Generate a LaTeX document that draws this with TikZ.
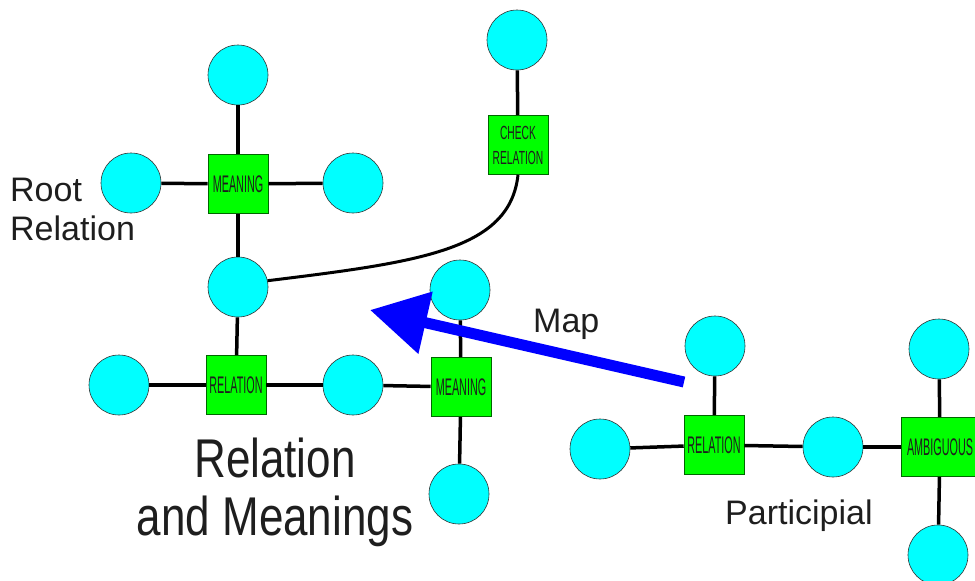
\documentclass[tikz,border=0pt]{standalone}
\usepackage{fontspec}
\setmainfont{Liberation Sans}
\usetikzlibrary{arrows.meta}
\definecolor{cyanfill}{RGB}{0,255,255}
\definecolor{boxgreen}{RGB}{0,255,0}
\definecolor{mapblue}{RGB}{0,0,255}
\definecolor{txt}{RGB}{30,30,30}
\newcommand{\boxlbl}[2][0.45]{\scalebox{#1}[1]{#2}}
\begin{document}
\begin{tikzpicture}[x=1pt,y=-1pt,
  circ/.style={circle, draw=black!80, line width=0.6pt, fill=cyanfill, minimum size=60pt, inner sep=0pt},
  gbox/.style={rectangle, draw=black!60!green, line width=0.6pt, fill=boxgreen, minimum width=60pt, minimum height=59pt, inner sep=0pt, font=\fontsize{24}{24}\selectfont, text=txt},
  link/.style={line width=3.5pt, black},
  lbl/.style={font=\fontsize{34}{39}\selectfont, text=txt, inner sep=0pt}]
\path[use as bounding box] (0,0) rectangle (975,581);
\clip (0,0) rectangle (975,581);

% left cluster
\node[circ] (tc) at (238,75) {};
\node[circ] (lc1) at (131,183) {};
\node[gbox] (mean1) at (238,184) {\boxlbl{MEANING}};
\node[circ] (rc1) at (353,183) {};
\node[circ] (cc) at (238,287) {};
\node[gbox] (rel1) at (236,385) {\boxlbl{RELATION}};
\node[circ] (lc2) at (119,385) {};
\node[circ] (rc2) at (353,385) {};
\node[gbox] (mean2) at (461,387) {\boxlbl{MEANING}};
\node[circ] (uc2) at (460,290) {};
\node[circ] (dc2) at (459,494) {};

% check relation
\node[circ] (chkc) at (517,40) {};
\node[gbox, font=\fontsize{19}{25}\selectfont, align=center] (chk) at (518,145) {\boxlbl[0.54]{CHECK}\\\boxlbl[0.54]{RELATION}};

% right cluster
\node[circ] (lc3) at (600,449) {};
\node[gbox] (rel2) at (714,445) {\boxlbl{RELATION}};
\node[circ] (uc3) at (715,346) {};
\node[circ] (rc3) at (833,447) {};
\node[gbox, minimum width=78pt] (amb) at (940,447) {\boxlbl{AMBIGUOUS}};
\node[circ] (uc4) at (939,349) {};
\node[circ] (dc4) at (938,555) {};

% connectors
\draw[link] (tc) -- (mean1);
\draw[link] (lc1) -- (mean1);
\draw[link] (mean1) -- (rc1);
\draw[link] (mean1) -- (cc);
\draw[link] (cc) -- (rel1);
\draw[link] (lc2) -- (rel1);
\draw[link] (rel1) -- (rc2);
\draw[link] (rc2) -- (mean2);
\draw[link] (uc2) -- (mean2);
\draw[link] (mean2) -- (dc2);
\draw[link] (chkc) -- (chk);
\draw[link, line width=3pt] (chk.south) .. controls (510,250) and (420,262) .. (cc.12);
\draw[link] (lc3) -- (rel2);
\draw[link] (uc3) -- (rel2);
\draw[link] (rel2) -- (rc3);
\draw[link] (rc3) -- (amb);
\draw[link] (uc4) -- (amb);
\draw[link] (amb) -- (dc4);

% texts
\node[lbl, anchor=north west, align=left] (root) at (10,178) {Root\\Relation};
\node[lbl, anchor=north, align=center, font=\fontsize{44}{47}\selectfont] (ram) at (275,436)
  {\scalebox{1}[1.24]{\begin{tabular}{@{}c@{}}Relation\\[0pt]and Meanings\end{tabular}}};
\node[lbl, anchor=base west] (map) at (533,332) {Map};
\node[lbl, anchor=base west] (part) at (725,524) {Participial};

% map arrow
\coordinate (mapS) at (684,382);
\coordinate (mapE) at (370,310);
\draw[mapblue, line width=11pt, -{Triangle[length=57pt,width=61pt]}] (mapS) -- (mapE);
\end{tikzpicture}
\end{document}
